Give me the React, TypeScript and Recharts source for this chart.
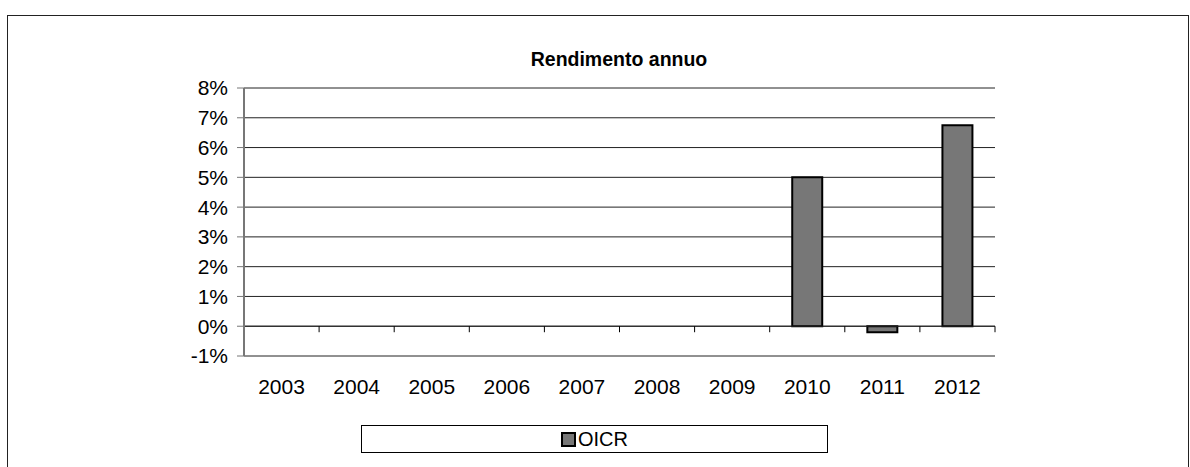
import React from "react";
import {
  BarChart,
  Bar,
  XAxis,
  YAxis,
  CartesianGrid,
  ReferenceLine,
  Legend,
} from "recharts";

const years = ["2003", "2004", "2005", "2006", "2007", "2008", "2009", "2010", "2011", "2012"];
const oicr = [null, null, null, null, null, null, null, 5.0, -0.2, 6.75];
const yTicks = [-1, 0, 1, 2, 3, 4, 5, 6, 7, 8];

const data = years.map((year, i) => ({ year, OICR: oicr[i] }));

const FONT = "'Liberation Sans', Arial, Helvetica, sans-serif";

// tick marks on the zero line, between the categories
const ZeroTicks = (props: any) => {
  const vb = props.viewBox || {};
  const n = years.length;
  const step = vb.width / n;
  const marks = [];
  for (let i = 0; i <= n; i++) {
    const x = vb.x + i * step;
    marks.push(<line key={i} x1={x} x2={x} y1={vb.y} y2={vb.y + 6} stroke="#000" strokeWidth={1} />);
  }
  return <g>{marks}</g>;
};

const LegendBox = () => (
  <div
    style={{
      width: 467,
      height: 28,
      border: "1px solid #000",
      background: "#fff",
      display: "flex",
      alignItems: "center",
      justifyContent: "center",
      fontFamily: FONT,
      fontSize: 20,
      boxSizing: "border-box",
    }}
  >
    <span
      style={{
        display: "inline-block",
        width: 11,
        height: 11,
        background: "#777",
        border: "2px solid #000",
        marginRight: 2,
      }}
    />
    OICR
  </div>
);

export default function App() {
  return (
    <div style={{ position: "absolute", left: 0, top: 0, width: 1190, height: 467, background: "#fff", overflow: "hidden" }}>
      <div
        style={{
          position: "absolute",
          left: 7,
          top: 15,
          width: 1182,
          height: 470,
          border: "1px solid #222",
          boxSizing: "border-box",
        }}
      />
      <div
        style={{
          position: "absolute",
          left: 0,
          width: 1190,
          top: 48,
          textAlign: "center",
          fontFamily: FONT,
          fontWeight: "bold",
          fontSize: 19.5,
          paddingLeft: 48,
          boxSizing: "border-box",
        }}
      >
        Rendimento annuo
      </div>
      <div style={{ position: "absolute", left: 0, top: 0 }}>
        <BarChart
          width={1190}
          height={467}
          data={data}
          margin={{ top: 88, right: 195, bottom: 43, left: 164 }}
          barCategoryGap="30%"
          style={{ fontFamily: FONT }}
        >
          <CartesianGrid horizontal={true} vertical={false} stroke="#222" strokeWidth={1} />
          <XAxis
            dataKey="year"
            axisLine={false}
            tickLine={false}
            height={40}
            tickMargin={17}
            tick={{ fill: "#000", fontSize: 21 }}
          />
          <YAxis
            width={80}
            domain={[-1, 8]}
            ticks={yTicks}
            interval={0}
            tickFormatter={(v: number) => `${v}%`}
            axisLine={{ stroke: "#777", strokeWidth: 2 }}
            tickLine={{ stroke: "#777" }}
            tickSize={7}
            tickMargin={9}
            tick={{ fill: "#000", fontSize: 21 }}
          />
          <ReferenceLine y={0} stroke="#222" label={<ZeroTicks />} />
          <Legend
            content={<LegendBox />}
            wrapperStyle={{ position: "absolute", left: 361, top: 425, width: 467 }}
          />
          <Bar dataKey="OICR" fill="#777" stroke="#000" strokeWidth={2} isAnimationActive={false} />
        </BarChart>
      </div>
    </div>
  );
}
